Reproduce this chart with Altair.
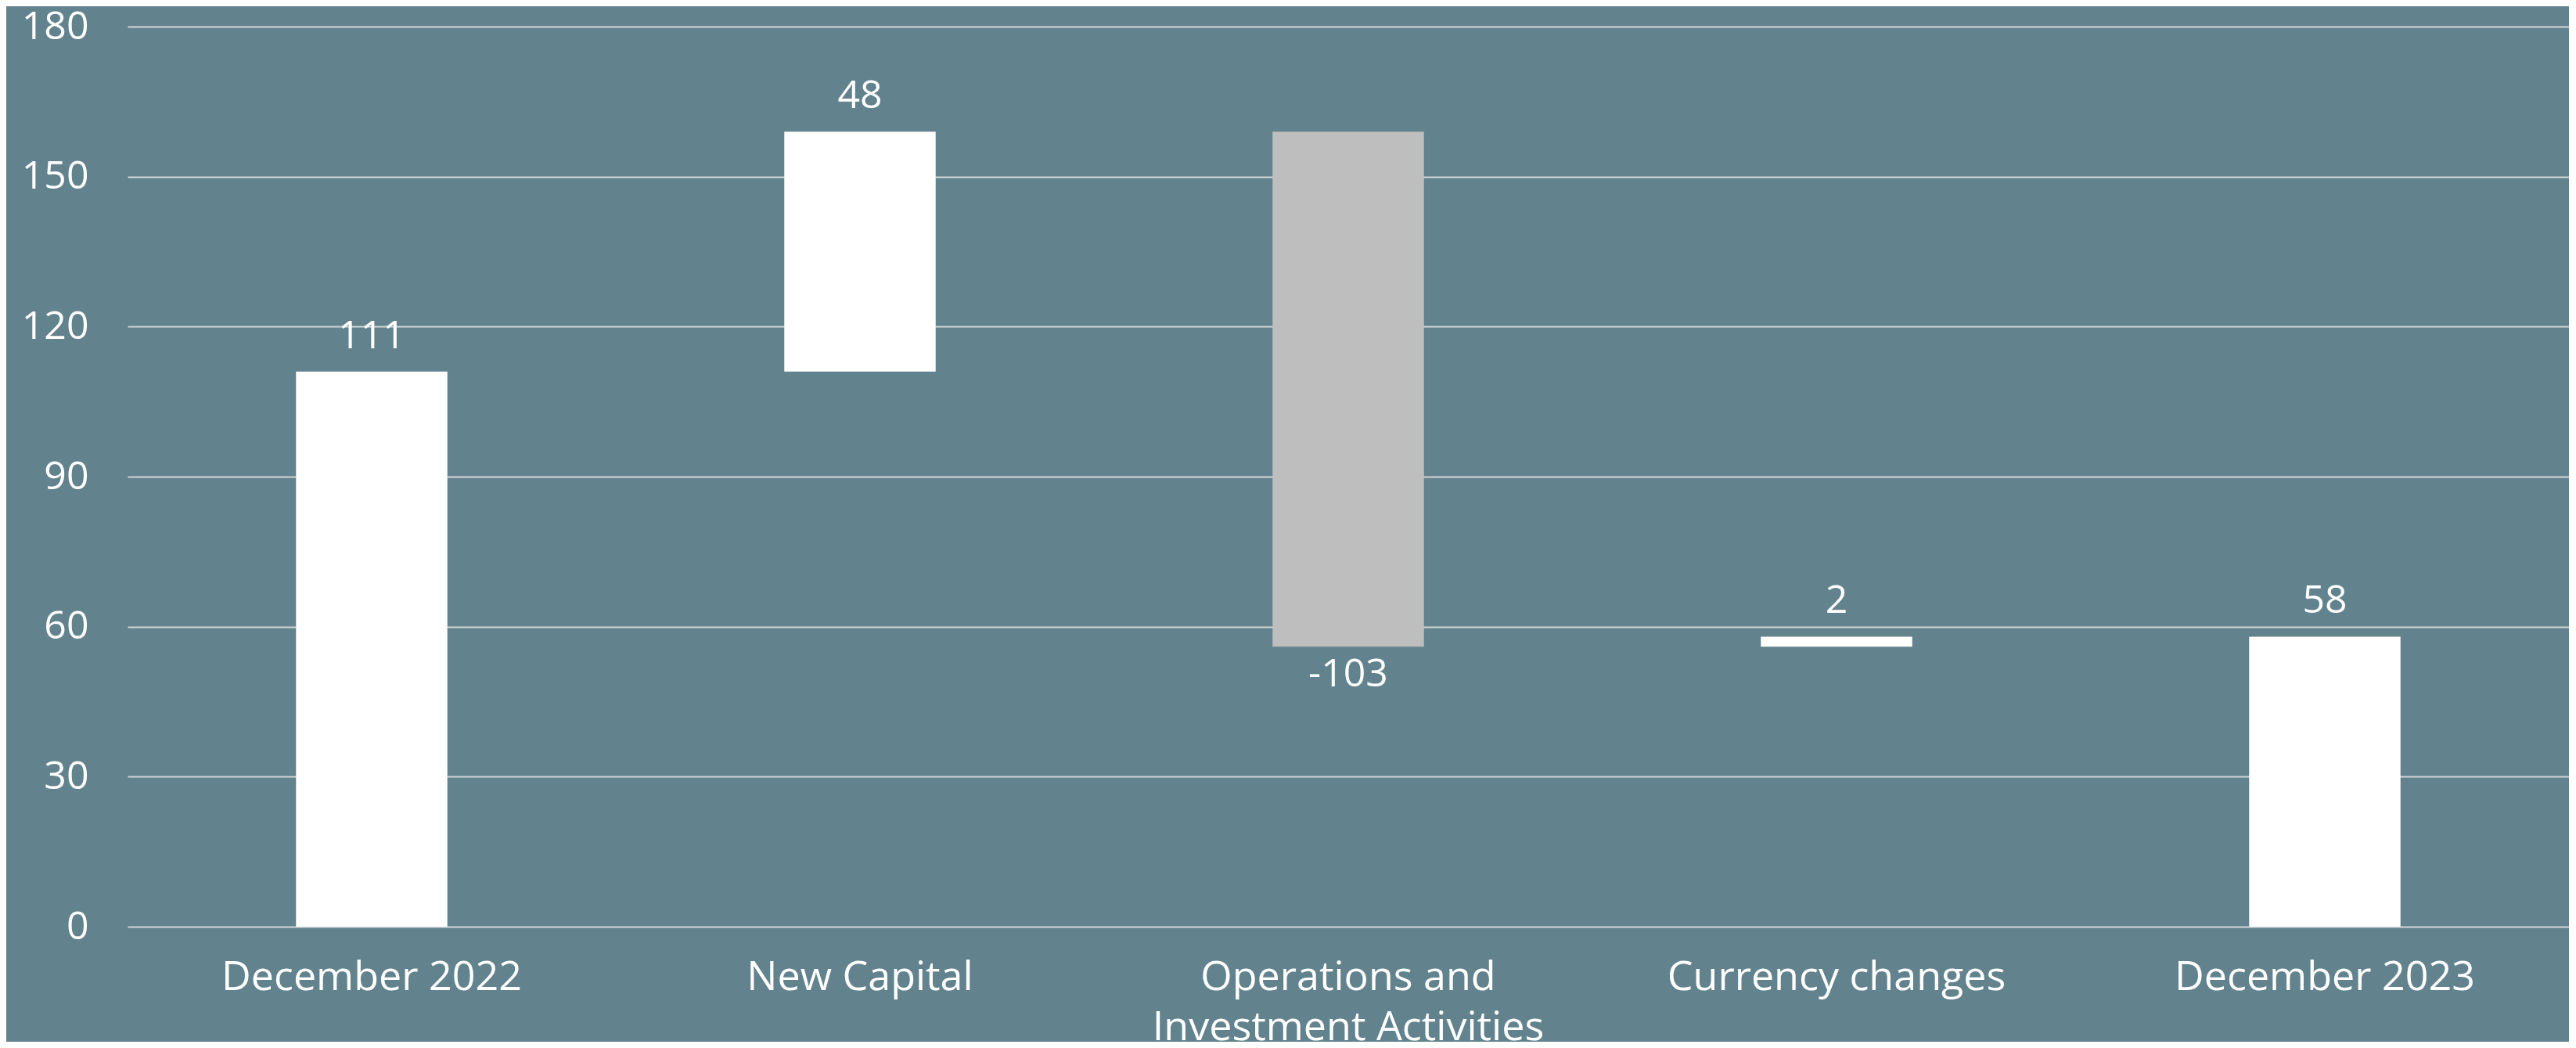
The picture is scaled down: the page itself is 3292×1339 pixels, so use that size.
import altair as alt
import pandas as pd

categories = ["December 2022", "New Capital", "Operations and Investment Activities",
              "Currency changes", "December 2023"]
starts = [0, 111, 159, 56, 0]
ends = [111, 159, 56, 58, 58]
labels = ["111", "48", "-103", "2", "58"]
kinds = ["total", "increase", "decrease", "increase", "total"]

df = pd.DataFrame({
    "category": categories,
    "start": starts,
    "end": ends,
    "label": labels,
    "kind": kinds,
})
df["top"] = df[["start", "end"]].max(axis=1)
df["bottom"] = df[["start", "end"]].min(axis=1)

FONT = "Open Sans"

x_enc = alt.X(
    "category:N",
    sort=categories,
    title=None,
    scale=alt.Scale(paddingInner=0.69, paddingOuter=0.345),
    axis=alt.Axis(
        labelAngle=0,
        labelFontSize=52,
        labelFont=FONT,
        labelColor="white",
        labelPadding=39,
        labelBaseline="top",
        labelLineHeight=64,
        labelLimit=0,
        labelExpr="datum.label == 'Operations and Investment Activities' ? ['Operations and', 'Investment Activities'] : datum.label",
        domain=False,
        ticks=False,
        grid=False,
    ),
)

bars = alt.Chart(df).mark_bar().encode(
    x=x_enc,
    y=alt.Y(
        "start:Q",
        title=None,
        scale=alt.Scale(domain=[0, 180], nice=False),
        axis=alt.Axis(
            values=[0, 30, 60, 90, 120, 150, 180],
            labelFontSize=50,
            labelFont=FONT,
            labelColor="white",
            labelPadding=50,
            domain=False,
            ticks=False,
            grid=True,
            gridColor="#D2D6D8",
            gridWidth=2,
        ),
    ),
    y2="end:Q",
    color=alt.Color(
        "kind:N",
        scale=alt.Scale(domain=["total", "increase", "decrease"],
                        range=["#FFFFFF", "#FFFFFF", "#BEBEBE"]),
        legend=None,
    ),
)

pos_text = alt.Chart(df).transform_filter("datum.kind != 'decrease'").mark_text(
    font=FONT, fontSize=50, color="white", baseline="alphabetic", dy=-30
).encode(
    x=alt.X("category:N", sort=categories),
    y=alt.Y("top:Q"),
    text="label:N",
)

neg_text = alt.Chart(df).transform_filter("datum.kind == 'decrease'").mark_text(
    font=FONT, fontSize=50, color="white", baseline="alphabetic", dy=51
).encode(
    x=alt.X("category:N", sort=categories),
    y=alt.Y("bottom:Q"),
    text="label:N",
)

chart = alt.layer(bars, pos_text, neg_text).properties(
    width=3120,
    height=1150,
    autosize=alt.AutoSizeParams(type="none"),
    padding={"left": 155, "top": 26, "right": 0, "bottom": 147},
).configure(
    background="#62838D",
).configure_view(
    stroke=None,
)

chart.save("out.html", embed_options={"renderer": "svg", "actions": False})
